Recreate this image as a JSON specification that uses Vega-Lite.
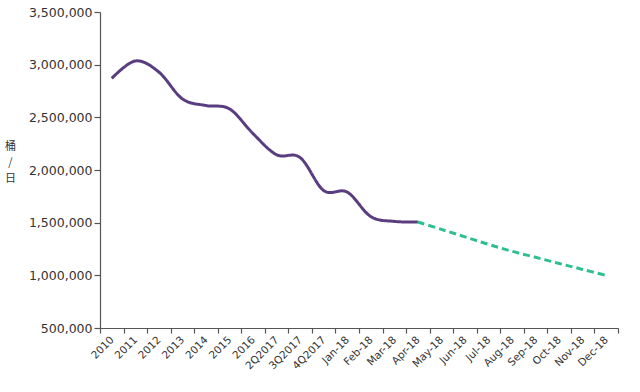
{
  "$schema": "https://vega.github.io/schema/vega-lite/v6.json",
  "width": 518,
  "height": 316,
  "autosize": {"type": "none"},
  "padding": {"left": 100, "top": 12, "right": 22, "bottom": 64},
  "background": "white",
  "config": {
    "view": {"stroke": null},
    "axis": {"labelFont": "DejaVu Sans", "domainColor": "#555555", "tickColor": "#555555", "labelColor": "#333333", "grid": false, "domainWidth": 1.2, "tickWidth": 1.2}
  },
  "data": {
    "values": [
      {"period": "2010", "value": 2870000, "series": "actual", "i": 1},
      {"period": "2011", "value": 3035000, "series": "actual", "i": 2},
      {"period": "2012", "value": 2930000, "series": "actual", "i": 3},
      {"period": "2013", "value": 2675000, "series": "actual", "i": 4},
      {"period": "2014", "value": 2612000, "series": "actual", "i": 5},
      {"period": "2015", "value": 2580000, "series": "actual", "i": 6},
      {"period": "2016", "value": 2345000, "series": "actual", "i": 7},
      {"period": "2Q2017", "value": 2145000, "series": "actual", "i": 8},
      {"period": "3Q2017", "value": 2118000, "series": "actual", "i": 9},
      {"period": "4Q2017", "value": 1805000, "series": "actual", "i": 10},
      {"period": "Jan-18", "value": 1790000, "series": "actual", "i": 11},
      {"period": "Feb-18", "value": 1558000, "series": "actual", "i": 12},
      {"period": "Mar-18", "value": 1512000, "series": "actual", "i": 13},
      {"period": "Apr-18", "value": 1506000, "series": "actual", "i": 14},
      {"period": "Apr-18", "value": 1506000, "series": "forecast", "i": 14},
      {"period": "May-18", "value": 1436000, "series": "forecast", "i": 15},
      {"period": "Jun-18", "value": 1365000, "series": "forecast", "i": 16},
      {"period": "Jul-18", "value": 1294000, "series": "forecast", "i": 17},
      {"period": "Aug-18", "value": 1228000, "series": "forecast", "i": 18},
      {"period": "Sep-18", "value": 1171000, "series": "forecast", "i": 19},
      {"period": "Oct-18", "value": 1113000, "series": "forecast", "i": 20},
      {"period": "Nov-18", "value": 1056000, "series": "forecast", "i": 21},
      {"period": "Dec-18", "value": 1000000, "series": "forecast", "i": 22}
    ]
  },
  "mark": {"type": "line", "interpolate": "cardinal", "strokeWidth": 3, "strokeCap": "butt"},
  "encoding": {
    "x": {
      "field": "period",
      "type": "ordinal",
      "bandPosition": 0.5,
      "scale": {
        "type": "band",
        "paddingInner": 0,
        "paddingOuter": 0,
        "domain": ["2010", "2011", "2012", "2013", "2014", "2015", "2016", "2Q2017", "3Q2017", "4Q2017", "Jan-18", "Feb-18", "Mar-18", "Apr-18", "May-18", "Jun-18", "Jul-18", "Aug-18", "Sep-18", "Oct-18", "Nov-18", "Dec-18"]
      },
      "axis": {"title": null, "labelAngle": -45, "labelAlign": "right", "labelBaseline": "middle", "tickBand": "extent", "labelFontSize": 10.5, "tickSize": 5, "labelPadding": 5}
    },
    "y": {
      "field": "value",
      "type": "quantitative",
      "scale": {"domain": [500000, 3500000], "nice": false, "zero": false},
      "axis": {
        "values": [500000, 1000000, 1500000, 2000000, 2500000, 3000000, 3500000],
        "format": ",.0f",
        "formatType": "number",
        "labelFontSize": 12.5,
        "tickSize": 6,
        "labelPadding": 2,
        "title": ["桶", "/", "日"],
        "titleAngle": 0,
        "titleFont": "Noto Sans CJK SC",
        "titleFontWeight": "normal",
        "titleFontSize": 11,
        "titleColor": "#333333",
        "titleLineHeight": 16,
        "titleAlign": "center",
        "titleBaseline": "top",
        "titleX": -90,
        "titleY": 128
      }
    },
    "order": {"field": "i", "type": "quantitative"},
    "color": {"field": "series", "type": "nominal", "scale": {"domain": ["actual", "forecast"], "range": ["#5a3d80", "#2dbf8e"]}, "legend": null},
    "strokeDash": {"field": "series", "type": "nominal", "scale": {"domain": ["actual", "forecast"], "range": [[1, 0], [7, 4]]}, "legend": null}
  }
}
